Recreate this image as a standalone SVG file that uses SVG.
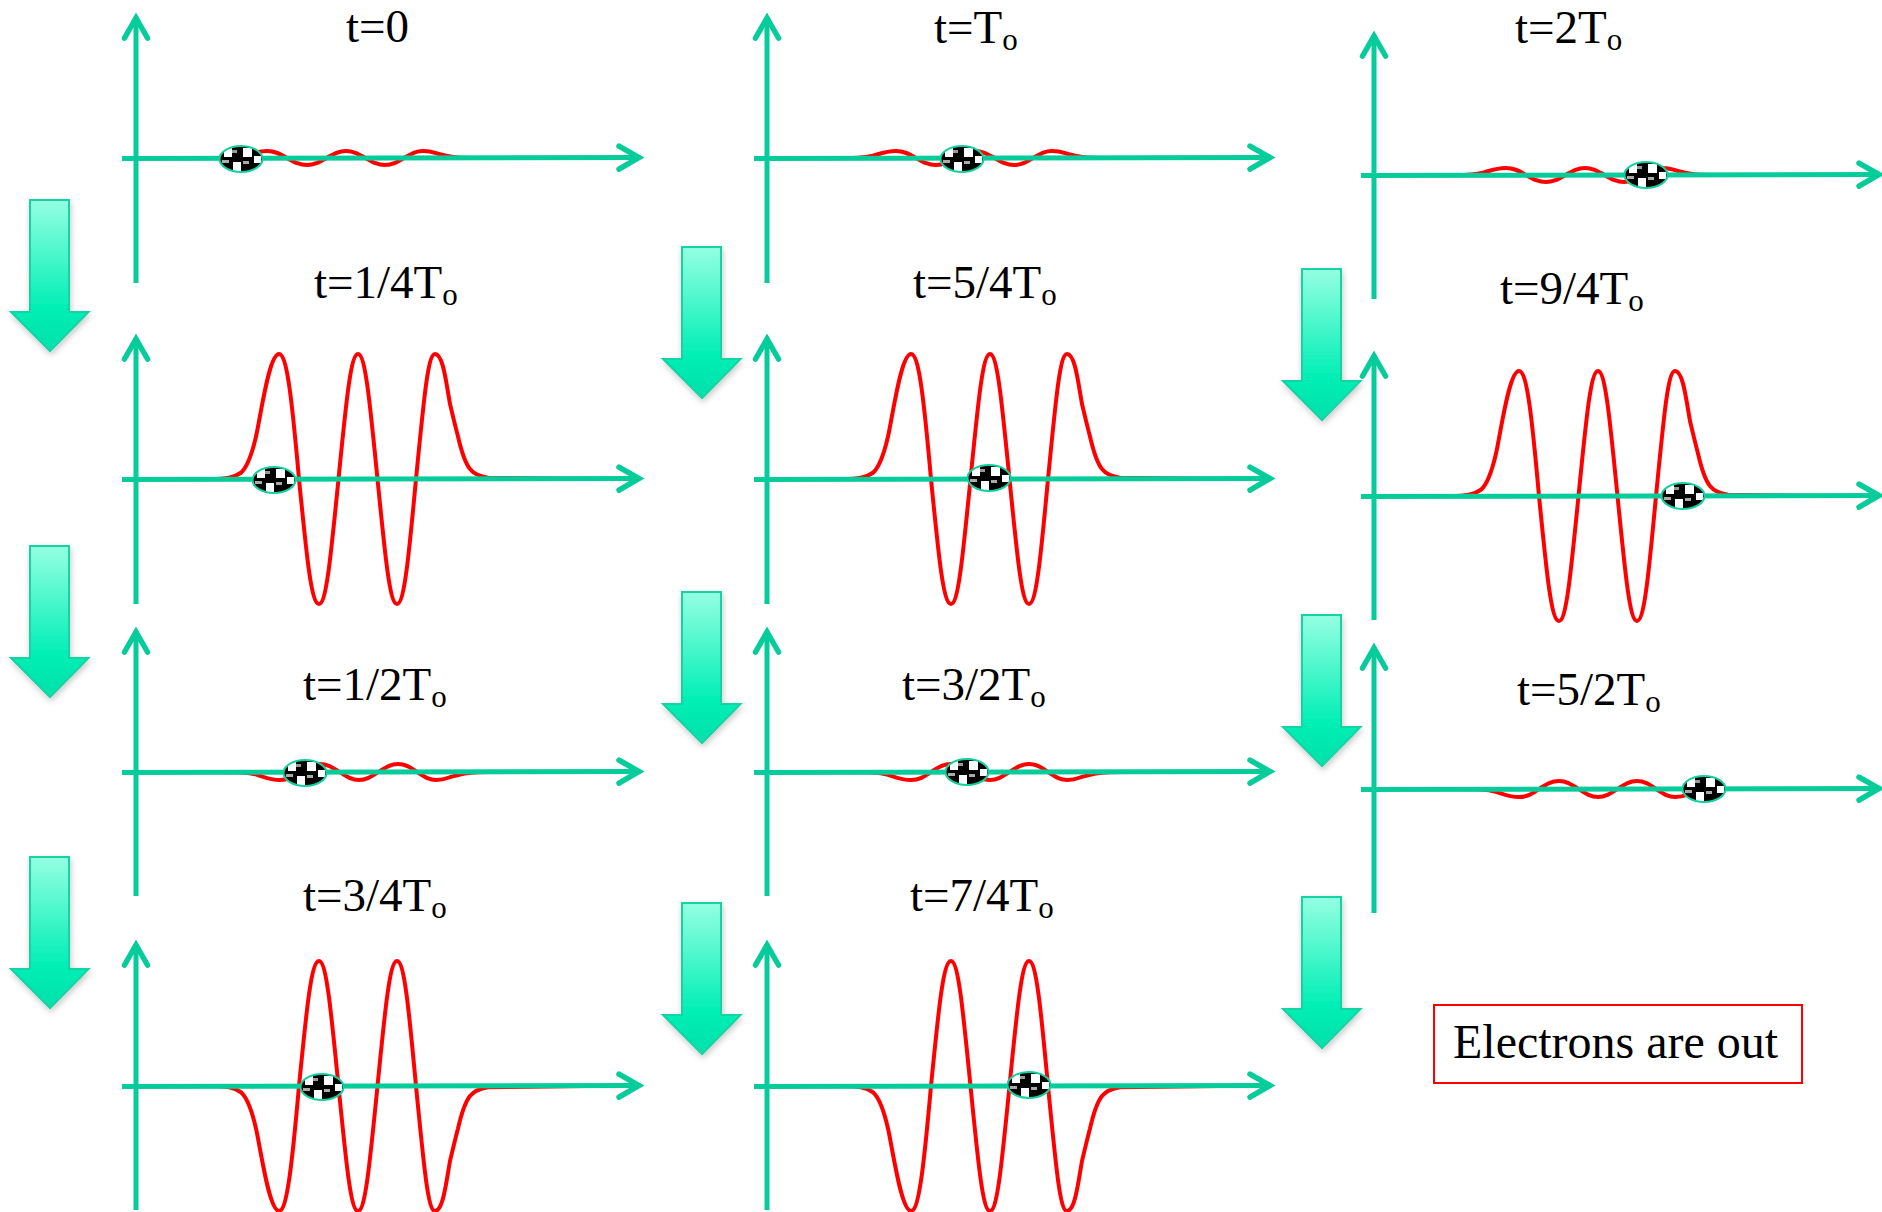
<svg xmlns="http://www.w3.org/2000/svg" width="1882" height="1212" viewBox="0 0 1882 1212">
<style>
text{font-family:"Liberation Serif","Times New Roman",serif;font-size:47px;fill:#000}
.ax{fill:none;stroke:#05cc9a;stroke-width:5}
.wave{fill:none;stroke:#ff0000;stroke-width:4;vector-effect:non-scaling-stroke}
.big{fill:url(#grad);stroke:#14d3a4;stroke-width:2;filter:url(#sh)}
</style>
<defs>
<linearGradient id="grad" x1="0" y1="0" x2="0" y2="1">
<stop offset="0" stop-color="#95ffe2"/><stop offset="0.72" stop-color="#00efb5"/><stop offset="1" stop-color="#08e0aa"/>
</linearGradient>
<filter id="sh" x="-20%" y="-10%" width="140%" height="125%"><feDropShadow dx="1" dy="3" stdDeviation="3" flood-color="#000" flood-opacity="0.22"/></filter>
<marker id="head" markerUnits="userSpaceOnUse" markerWidth="32" markerHeight="32" refX="0" refY="0" viewBox="-24 -16 32 32" orient="auto" overflow="visible">
<path d="M-21,-11.500 L-1,0 L-21,11.500" fill="none" stroke="#05cc9a" stroke-width="5.500" stroke-linecap="round"/>
</marker>
<path id="wave" class="wave" d="M-210,0 L-148,0 C-132,0 -124,-1 -117,-5 C-110,-10 -106,-20 -102,-34 C-97,-52 -89,-100 -79,-100 C-71,-100 -66,-63 -59,0 C-51.200,63 -46.700,100 -39,100 C-31.800,100 -27.300,63 -19.500,0 C-11.700,-63 -7.200,-100 0,-100 C7.200,-100 11.700,-63 19.500,0 C27.300,63 31.800,100 39,100 C46.200,100 50.700,63 58,0 C65.800,-63 69.800,-100 77,-100 C85,-100 88,-78 92,-60 C95,-50 97,-43 100,-34 C104,-20 108,-12 112,-8 C116,-4 122,-2 130,-1 L228,0"/>
<clipPath id="ec"><ellipse cx="0" cy="0" rx="21.500" ry="13"/></clipPath>
<g id="electron">
<g clip-path="url(#ec)">
<rect x="-22" y="-14" width="44" height="28" fill="#000"/>
<rect x="-17" y="-11" width="8" height="9" fill="#fff"/>
<rect x="2" y="-11" width="9" height="9" fill="#fff"/>
<rect x="-8" y="3" width="8" height="10" fill="#fff"/>
<rect x="13" y="-3" width="7" height="7" fill="#fff"/>
<rect x="-19" y="1" width="7" height="3" fill="#aaa"/>
<rect x="-9" y="-9" width="5" height="3" fill="#999"/>
<rect x="2" y="2" width="6" height="3" fill="#aaa"/>
</g>
<ellipse cx="0" cy="0" rx="21.500" ry="13" fill="none" stroke="#14cfa0" stroke-width="2"/>
</g>
<path id="bigarrow" class="big" d="M-20,0 H19 V112 H38.500 L0,151 L-39,112 H-20 Z"/>
</defs>

<g id="connectors">
<use href="#bigarrow" x="50" y="200"/>
<use href="#bigarrow" x="50" y="546"/>
<use href="#bigarrow" x="50" y="857"/>
<use href="#bigarrow" x="702" y="247"/>
<use href="#bigarrow" x="702" y="592"/>
<use href="#bigarrow" x="702" y="903"/>
<use href="#bigarrow" x="1322" y="269"/>
<use href="#bigarrow" x="1322" y="615"/>
<use href="#bigarrow" x="1322" y="897"/>
</g>

<g id="panel-t0">
<use href="#wave" transform="translate(346,158) scale(1,0.07)"/>
<path class="ax" d="M136,283 V17" marker-end="url(#head)"/><path class="ax" d="M122,158.500 L640,157.500" marker-end="url(#head)"/>
<use href="#electron" x="241" y="159"/>
<text x="346" y="42">t=0</text>
</g>
<g id="panel-t1-4">
<use href="#wave" transform="translate(358,479) scale(1,1.25)"/>
<path class="ax" d="M136,604 V338" marker-end="url(#head)"/><path class="ax" d="M122,479.500 L640,478.500" marker-end="url(#head)"/>
<use href="#electron" x="274" y="480"/>
<text x="314" y="298">t=1/4T<tspan font-size="31" dy="7">o</tspan></text>
</g>
<g id="panel-t1-2">
<use href="#wave" transform="translate(359,772) scale(1,-0.08)"/>
<path class="ax" d="M136,896 V631" marker-end="url(#head)"/><path class="ax" d="M122,772.500 L640,771.500" marker-end="url(#head)"/>
<use href="#electron" x="305" y="773"/>
<text x="303" y="700">t=1/2T<tspan font-size="31" dy="7">o</tspan></text>
</g>
<g id="panel-t3-4">
<use href="#wave" transform="translate(358,1086) scale(1,-1.25)"/>
<path class="ax" d="M136,1210 V944" marker-end="url(#head)"/><path class="ax" d="M122,1086.500 L640,1085.500" marker-end="url(#head)"/>
<use href="#electron" x="322" y="1087"/>
<text x="303" y="911">t=3/4T<tspan font-size="31" dy="7">o</tspan></text>
</g>

<g id="panel-T">
<use href="#wave" transform="translate(975,158) scale(1,0.07)"/>
<path class="ax" d="M767,283 V17" marker-end="url(#head)"/><path class="ax" d="M754,158.500 L1271,157.500" marker-end="url(#head)"/>
<use href="#electron" x="962" y="159"/>
<text x="934" y="43">t=T<tspan font-size="31" dy="7">o</tspan></text>
</g>
<g id="panel-t5-4">
<use href="#wave" transform="translate(990,479) scale(1,1.25)"/>
<path class="ax" d="M767,604 V338" marker-end="url(#head)"/><path class="ax" d="M754,479.500 L1271,478.500" marker-end="url(#head)"/>
<use href="#electron" x="989" y="478"/>
<text x="913" y="298">t=5/4T<tspan font-size="31" dy="7">o</tspan></text>
</g>
<g id="panel-t3-2">
<use href="#wave" transform="translate(990,772) scale(1,-0.08)"/>
<path class="ax" d="M767,896 V631" marker-end="url(#head)"/><path class="ax" d="M754,772.500 L1271,771.500" marker-end="url(#head)"/>
<use href="#electron" x="967" y="772"/>
<text x="902" y="700">t=3/2T<tspan font-size="31" dy="7">o</tspan></text>
</g>
<g id="panel-t7-4">
<use href="#wave" transform="translate(990,1086) scale(1,-1.25)"/>
<path class="ax" d="M767,1210 V944" marker-end="url(#head)"/><path class="ax" d="M754,1086.500 L1271,1085.500" marker-end="url(#head)"/>
<use href="#electron" x="1029" y="1085"/>
<text x="910" y="911">t=7/4T<tspan font-size="31" dy="7">o</tspan></text>
</g>

<g id="panel-2T">
<use href="#wave" transform="translate(1585,175) scale(1,0.07)"/>
<path class="ax" d="M1374,299 V35" marker-end="url(#head)"/><path class="ax" d="M1361,175.500 L1880,174.500" marker-end="url(#head)"/>
<use href="#electron" x="1646" y="175"/>
<text x="1515" y="43">t=2T<tspan font-size="31" dy="7">o</tspan></text>
</g>
<g id="panel-t9-4">
<use href="#wave" transform="translate(1598,496) scale(1,1.25)"/>
<path class="ax" d="M1374,620 V355" marker-end="url(#head)"/><path class="ax" d="M1361,496.500 L1880,495.500" marker-end="url(#head)"/>
<use href="#electron" x="1683" y="496"/>
<text x="1500" y="304">t=9/4T<tspan font-size="31" dy="7">o</tspan></text>
</g>
<g id="panel-t5-2">
<use href="#wave" transform="translate(1598,789) scale(1,-0.08)"/>
<path class="ax" d="M1374,913 V647" marker-end="url(#head)"/><path class="ax" d="M1361,789.500 L1880,788.500" marker-end="url(#head)"/>
<use href="#electron" x="1704" y="789"/>
<text x="1517" y="705">t=5/2T<tspan font-size="31" dy="7">o</tspan></text>
</g>
<g id="note">
<rect x="1434" y="1005" width="368" height="78" fill="#fff" stroke="#ff0000" stroke-width="2"/>
<text x="1453" y="1058" style="font-size:48px">Electrons are out</text>
</g>
</svg>
